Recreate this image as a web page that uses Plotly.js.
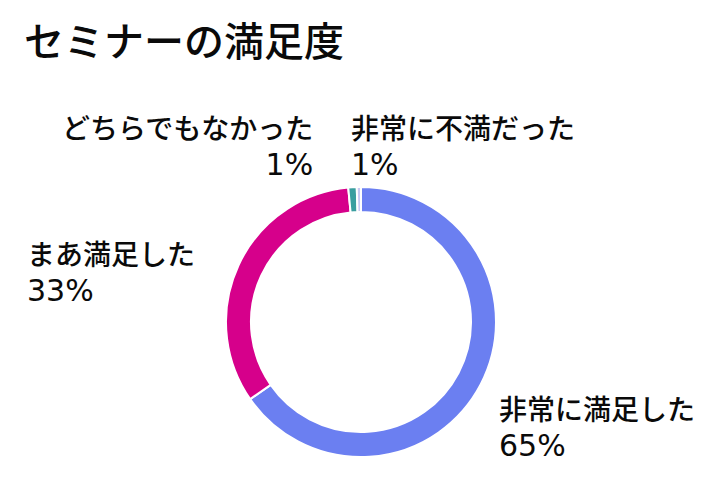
<!DOCTYPE html>
<html>
<head>
<meta charset="utf-8">
<script src="https://cdn.plot.ly/plotly-3.0.1.min.js"></script>
<style>
  html, body { margin: 0; padding: 0; background: #fff; }
  #chart { width: 709px; height: 492px; }
</style>
</head>
<body>
<div id="chart"></div>
<script>
const categories = ['非常に満足した', 'まあ満足した', 'どちらでもなかった', '非常に不満だった'];
const counts = [65, 33, 1, 0.5];
const sliceColors = ['#6b7ff1', '#d6008b', '#3a9e9f', '#c9c9f2'];

const total = counts.reduce((a, b) => a + b, 0);
const pctText = counts.map(v => Math.round(v / total * 100) + '%');

// ラベルの配置（Google Charts 風の外側ラベル）
const labelPos = [
  { x: 497 / 709, y: 1 - 425 / 492, xanchor: 'left', align: 'left' },
  { x: 25 / 709, y: 1 - 270 / 492, xanchor: 'left', align: 'left' },
  { x: 315 / 709, y: 1 - 145 / 492, xanchor: 'right', align: 'right' },
  { x: 349 / 709, y: 1 - 145 / 492, xanchor: 'left', align: 'left' }
];

const FONT = '"Noto Sans CJK JP", "Noto Sans", sans-serif';
const NUM_FONT = "'DejaVu Sans', sans-serif";

const trace = {
  type: 'pie',
  labels: categories,
  values: counts,
  hole: 0.815,
  sort: false,
  direction: 'clockwise',
  rotation: 0,
  textinfo: 'none',
  hoverinfo: 'label+percent',
  marker: { colors: sliceColors, line: { color: '#ffffff', width: 2 } },
  domain: { x: [226 / 709, 496 / 709], y: [34 / 492, 306 / 492] },
  showlegend: false
};

const annotations = categories.map((c, i) => ({
  xref: 'paper', yref: 'paper',
  x: labelPos[i].x, y: labelPos[i].y,
  xanchor: labelPos[i].xanchor, yanchor: 'middle',
  align: labelPos[i].align,
  showarrow: false,
  text: `${c}<br><span style="font-family:${NUM_FONT};font-size:30px">${pctText[i]}</span>`,
  font: { family: FONT, size: 28, color: '#0a0a0a', weight: 500 }
}));

const layout = {
  width: 709,
  height: 492,
  margin: { t: 0, b: 0, l: 0, r: 0 },
  paper_bgcolor: '#ffffff',
  title: {
    text: 'セミナーの満足度',
    font: { family: FONT, size: 40, color: '#0a0a0a', weight: 500 },
    x: 24 / 709, xanchor: 'left',
    xref: 'container', yref: 'container',
    y: 1 - 42 / 492, yanchor: 'middle'
  },
  annotations
};

Plotly.newPlot('chart', [trace], layout, { displayModeBar: false, staticPlot: true });
</script>
</body>
</html>
